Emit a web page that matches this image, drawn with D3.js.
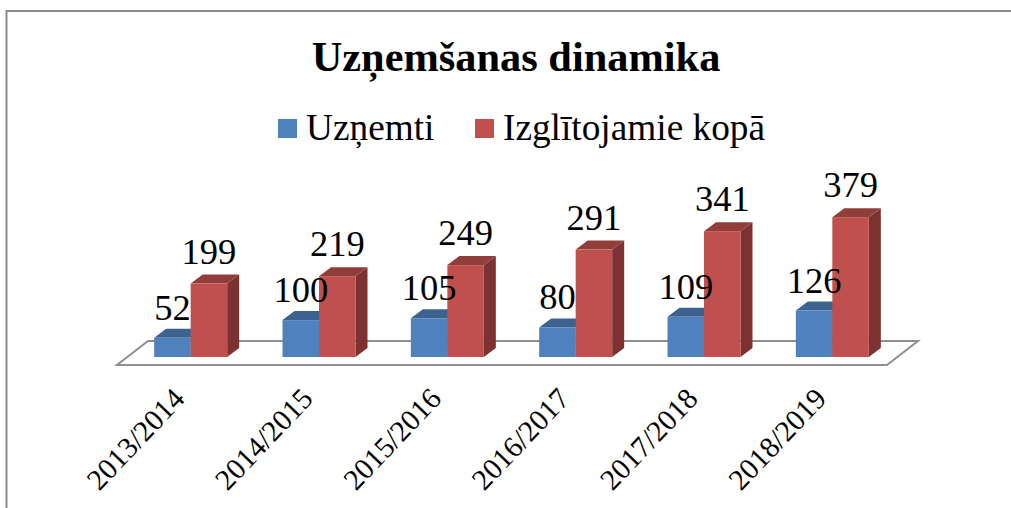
<!DOCTYPE html>
<html>
<head>
<meta charset="utf-8">
<script src="https://cdn.jsdelivr.net/npm/d3@7"></script>
<style>
  html, body { margin: 0; padding: 0; background: #fff; overflow: hidden; }
  text { font-family: "Liberation Serif", serif; fill: #000; }
</style>
</head>
<body>
<div id="chart"></div>
<script>
// Dữ liệu
const categories = ["2013/2014", "2014/2015", "2015/2016", "2016/2017", "2017/2018", "2018/2019"];
const uznemti = [52, 100, 105, 80, 109, 126];
const kopa = [199, 219, 249, 291, 341, 379];
const seriesNames = ["Uzņemti", "Izglītojamie kopā"];
const seriesColors = ["#4f81bd", "#c0504d"];
const seriesTop = ["#3c628f", "#913d3a"];
const seriesSide = ["#32527a", "#7b3230"];

const width = 1011, height = 508;
const baseY = 357;          // chân cột (mặt trước)
const depthX = 12, depthY = 9;

const svg = d3.select("#chart")
  .append("svg")
    .attr("width", width)
    .attr("height", height)
    .style("display", "block");

// Viền khung
svg.append("path")
  .attr("d", `M6.5,${height} V11 H${width}`)
  .attr("fill", "none")
  .attr("stroke", "#8c8c8c")
  .attr("stroke-width", 2);

// Scale
const x = d3.scaleBand()
  .domain(categories)
  .range([126.5, 896.5]);

const barW = 36.5;

const y = d3.scaleLinear()
  .domain([0, 400])
  .range([baseY, baseY - 147.6]);

// Sàn 3D
const floorL = 117, floorR = 887, floorFront = 365, floorBack = 341, floorDx = 31;
svg.append("path")
  .attr("d", `M${floorL},${floorFront} L${floorR},${floorFront} L${floorR + floorDx},${floorBack} L${floorL + floorDx},${floorBack} Z`)
  .attr("fill", "#fff")
  .attr("stroke", "#8f8f8f")
  .attr("stroke-width", 2);

// Vẽ cột 3D
function drawBar(g, x0, value, s) {
  const top = y(value);
  g.append("path")
    .attr("d", `M${x0 + barW},${top} l${depthX},${-depthY} V${baseY - depthY} l${-depthX},${depthY} Z`)
    .attr("fill", seriesSide[s]);
  g.append("path")
    .attr("d", `M${x0},${top} l${depthX},${-depthY} h${barW} l${-depthX},${depthY} Z`)
    .attr("fill", seriesTop[s]);
  g.append("rect")
    .attr("x", x0)
    .attr("y", top)
    .attr("width", barW)
    .attr("height", baseY - top)
    .attr("fill", seriesColors[s]);
}

const bars = svg.append("g");
categories.forEach((c, i) => {
  const cx = x(c) + x.bandwidth() / 2;
  drawBar(bars, cx - barW, uznemti[i], 0);
  drawBar(bars, cx, kopa[i], 1);
});

// Nhãn giá trị
const labels = svg.append("g")
  .attr("font-size", 36.5)
  .attr("text-anchor", "middle");
categories.forEach((c, i) => {
  const cx = x(c) + x.bandwidth() / 2;
  labels.append("text")
    .attr("x", cx - barW / 2)
    .attr("y", y(uznemti[i]) - 18)
    .text(uznemti[i]);
  labels.append("text")
    .attr("x", cx + barW / 2)
    .attr("y", y(kopa[i]) - 20)
    .text(kopa[i]);
});

// Nhãn trục X
const axisG = svg.append("g")
  .attr("font-size", 29.5);
categories.forEach(c => {
  const cx = x(c) + x.bandwidth() / 2;
  axisG.append("text")
    .attr("transform", `translate(${cx - 12},393) rotate(-46.5)`)
    .attr("text-anchor", "end")
    .attr("dy", "0.35em")
    .text(c);
});

// Tiêu đề
svg.append("text")
  .attr("x", 516)
  .attr("y", 71)
  .attr("text-anchor", "middle")
  .attr("font-size", 42.4)
  .attr("font-weight", "bold")
  .text("Uzņemšanas dinamika");

// Chú giải
const legend = svg.append("g").attr("font-size", 37.3);
const legendX = [278, 475];
seriesNames.forEach((n, i) => {
  legend.append("rect")
    .attr("x", legendX[i])
    .attr("y", 119)
    .attr("width", 19)
    .attr("height", 19)
    .attr("fill", seriesColors[i]);
  legend.append("text")
    .attr("x", legendX[i] + 28)
    .attr("y", 140)
    .text(n);
});
</script>
</body>
</html>
